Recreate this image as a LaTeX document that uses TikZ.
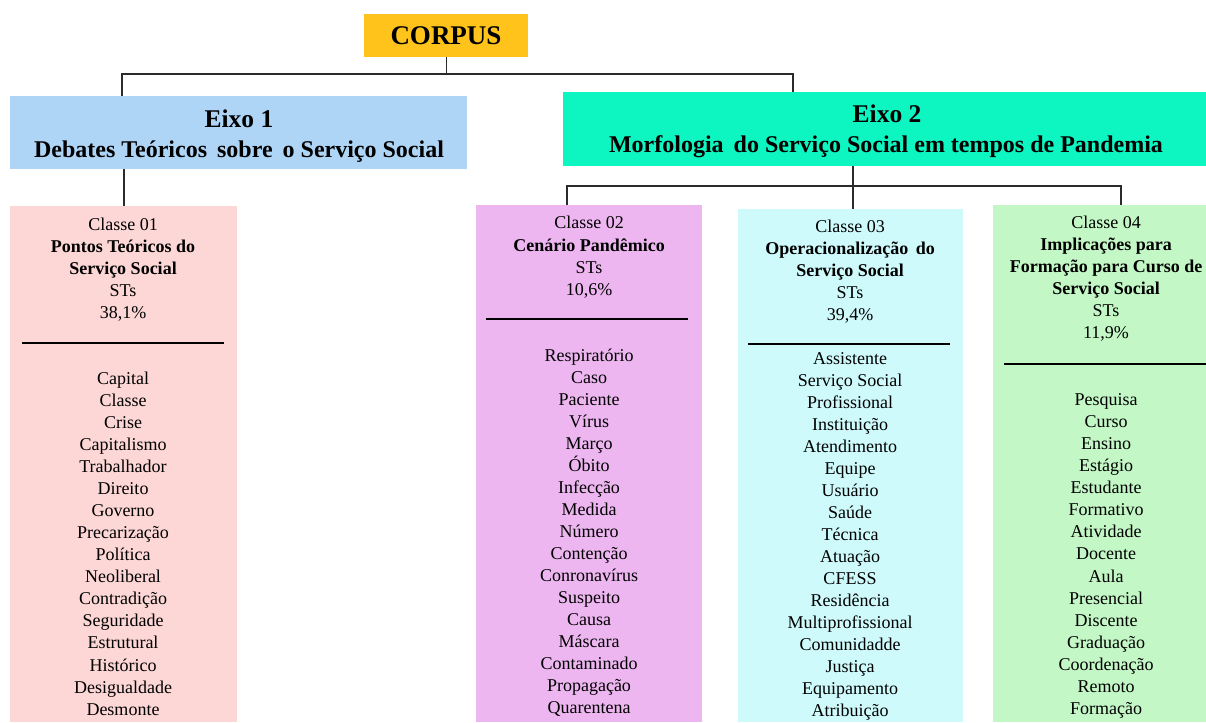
\documentclass[tikz,border=0pt]{standalone}
\usepackage{fontspec}
\setmainfont{Liberation Serif}
\definecolor{corpusc}{HTML}{FFC31C}
\definecolor{eixoa}{HTML}{AED5F6}
\definecolor{eixob}{HTML}{0DF5C0}
\definecolor{cla}{HTML}{FDD6D6}
\definecolor{clb}{HTML}{EDB6F0}
\definecolor{clc}{HTML}{CFFAFB}
\definecolor{cld}{HTML}{C3F7C6}
\definecolor{linec}{HTML}{2B2B2B}
\tikzset{
  conn/.style={draw=linec, line width=1.1pt},
  divider/.style={draw=black, line width=1.1pt},
  panel/.style={draw=none, inner sep=0pt, anchor=north west},
  word/.style={anchor=base, inner sep=0pt, font=\fontsize{18}{22}\selectfont},
  head/.style={anchor=base, inner sep=0pt, font=\fontsize{18}{22}\selectfont\bfseries},
  eixot/.style={anchor=base, inner sep=0pt, font=\fontsize{25.5}{30}\selectfont\bfseries},
  eixos/.style={anchor=base, inner sep=0pt, font=\fontsize{24}{28}\selectfont\bfseries}
}
\begin{document}
\begin{tikzpicture}[x=1pt,y=-1pt]
\useasboundingbox (0,0) rectangle (1206,722);
% corpus
\node[panel, fill=corpusc, minimum width=164pt, minimum height=43pt] (corpus) at (364,14) {};
\node[anchor=base, inner sep=0pt, font=\fontsize{27}{32}\selectfont\bfseries] (corpust) at (446,45) {CORPUS};
% eixos
\node[panel, fill=eixoa, minimum width=457pt, minimum height=73pt] (e1) at (10,96) {};
\node[eixot] (e1t) at (239,128) {Eixo 1};
\node[eixos] (e1s) at (239,158) {Debates Teóricos\, sobre\, o Serviço Social};
\node[panel, fill=eixob, minimum width=643pt, minimum height=74pt] (e2) at (563,92) {};
\node[eixot] (e2t) at (887,123) {Eixo 2};
\node[eixos] (e2s) at (886,153) {Morfologia\, do Serviço Social em tempos de Pandemia};
% classes
\node[panel, fill=cla, minimum width=227pt, minimum height=516pt] (c1) at (10,206) {};
\node[panel, fill=clb, minimum width=226pt, minimum height=517pt] (c2) at (476,205) {};
\node[panel, fill=clc, minimum width=225pt, minimum height=513pt] (c3) at (738,209) {};
\node[panel, fill=cld, minimum width=213pt, minimum height=517pt] (c4) at (993,205) {};
% connectors
\coordinate (j) at (444,74);
\draw[conn] (corpus.south) -- (corpus.south |- j);
\draw[conn] ([xshift=112pt]e1.north west) |- (j) -| ([xshift=230pt]e2.north west);
\draw[conn] ([xshift=114pt]e1.south west) -- ([xshift=114pt]c1.north west);
\coordinate (k) at (853,186);
\draw[conn] ([xshift=290pt]e2.south west) -- ([xshift=115pt]c3.north west);
\draw[conn] ([xshift=91pt]c2.north west) |- (k) -| ([xshift=128pt]c4.north west);
% classe 01
\node[word] (c1a) at (123,230) {Classe 01};
\node[head] (c1b) at (123,252) {Pontos Teóricos do};
\node[head] (c1c) at (123,274) {Serviço Social};
\node[word] (c1d) at (123,296) {STs};
\node[word] (c1e) at (123,318) {38,1\%};
\draw[divider] (22,343) -- (224,343);
\foreach \w [count=\i from 0] in {Capital,Classe,Crise,Capitalismo,Trabalhador,Direito,Governo,Precarização,Política,Neoliberal,Contradição,Seguridade,Estrutural,Histórico,Desigualdade,Desmonte}
  \node[word] (c1w\i) at (123,384+22.08*\i) {\w};
% classe 02
\node[word] (c2a) at (589,228) {Classe 02};
\node[head] (c2b) at (589,251) {Cenário Pandêmico};
\node[word] (c2d) at (589,273) {STs};
\node[word] (c2e) at (589,295) {10,6\%};
\draw[divider] (486,319) -- (688,319);
\foreach \w [count=\i from 0] in {Respiratório,Caso,Paciente,Vírus,Março,Óbito,Infecção,Medida,Número,Contenção,Conronavírus,Suspeito,Causa,Máscara,Contaminado,Propagação,Quarentena}
  \node[word] (c2w\i) at (589,361+22.06*\i) {\w};
% classe 03
\node[word] (c3a) at (850,232) {Classe 03};
\node[head] (c3b) at (850,254) {Operacionalização\, do};
\node[head] (c3c) at (850,276) {Serviço Social};
\node[word] (c3d) at (850,298) {STs};
\node[word] (c3e) at (850,320) {39,4\%};
\draw[divider] (748,344) -- (950,344);
\foreach \w [count=\i from 0] in {Assistente,Serviço Social,Profissional,Instituição,Atendimento,Equipe,Usuário,Saúde,Técnica,Atuação,CFESS,Residência,Multiprofissional,Comunidadde,Justiça,Equipamento,Atribuição}
  \node[word] (c3w\i) at (850,364+22.06*\i) {\w};
% classe 04
\node[word] (c4a) at (1106,228) {Classe 04};
\node[head] (c4b) at (1106,250) {Implicações para};
\node[head] (c4c) at (1106,272) {Formação para Curso de};
\node[head] (c4d) at (1106,294) {Serviço Social};
\node[word] (c4e) at (1106,316) {STs};
\node[word] (c4f) at (1106,338) {11,9\%};
\draw[divider] (1004,364) -- (1206,364);
\foreach \w [count=\i from 0] in {Pesquisa,Curso,Ensino,Estágio,Estudante,Formativo,Atividade,Docente,Aula,Presencial,Discente,Graduação,Coordenação,Remoto,Formação}
  \node[word] (c4w\i) at (1106,405+22.14*\i) {\w};
\end{tikzpicture}
\end{document}
